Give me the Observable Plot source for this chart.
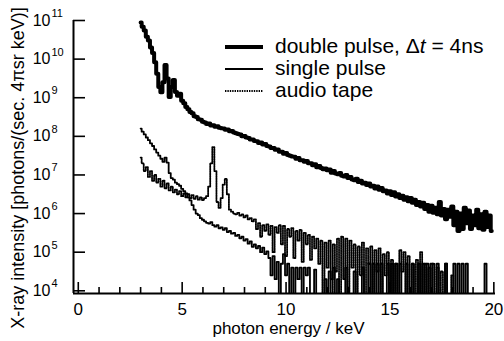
<!DOCTYPE html>
<html><head><meta charset="utf-8">
<script src="https://cdn.jsdelivr.net/npm/d3@7"></script>
<script src="https://cdn.jsdelivr.net/npm/@observablehq/plot@0.6"></script>
<style>
body{margin:0;background:#fff;}
#chart{position:relative;width:504px;height:341px;font-family:"Liberation Sans",Arial,Helvetica,sans-serif;color:#000;}
#chart svg{display:block;}
.lg{position:absolute;left:225px;font-size:21px;line-height:21px;white-space:nowrap;display:flex;align-items:center;}
.lg svg{margin-right:10px;}
</style></head><body><div id="chart"></div>
<script>
// energy channels (keV): 3.0 .. 19.9 in 0.1 keV bins
const energyStart = 3.0, energyStep = 0.1, channelCount = 170;
// log10 of X-ray intensity
const doubleLog = [
10.95,10.84,10.74,10.58,10.48,10.30,10.16,9.92,9.62,9.28,
9.14,9.40,9.85,9.50,9.02,9.28,9.46,9.15,9.05,9.10,
8.92,8.86,8.76,8.70,8.63,8.60,8.52,8.50,8.44,8.43,
8.38,8.36,8.32,8.33,8.28,8.29,8.25,8.26,8.22,8.21,
8.20,8.17,8.18,8.13,8.14,8.10,8.08,8.06,8.05,8.00,
8.01,7.97,7.96,7.92,7.92,7.88,7.87,7.83,7.84,7.79,
7.80,7.75,7.74,7.70,7.70,7.65,7.66,7.60,7.60,7.55,
7.57,7.52,7.50,7.48,7.47,7.42,7.44,7.38,7.38,7.34,
7.36,7.30,7.30,7.25,7.28,7.20,7.23,7.18,7.15,7.17,
7.12,7.14,7.06,7.10,7.04,7.02,7.05,6.98,6.96,7.00,
6.92,6.95,6.88,6.86,6.90,6.82,6.85,6.78,6.80,6.74,
6.78,6.70,6.72,6.65,6.70,6.62,6.66,6.58,6.60,6.52,
6.58,6.48,6.55,6.44,6.50,6.40,6.46,6.36,6.42,6.32,
6.40,6.28,6.36,6.22,6.30,6.18,6.28,6.12,6.22,6.05,
6.20,6.02,6.15,5.98,6.30,5.95,6.12,5.85,6.10,5.92,
6.18,5.70,6.05,5.55,6.00,5.60,6.15,5.75,6.08,5.60,
5.95,5.70,6.10,5.62,5.98,5.58,6.05,5.65,5.95,5.55];
const singleLog = [
8.20,8.12,8.05,7.97,7.90,7.82,7.75,7.66,7.58,7.50,
7.42,7.34,7.45,7.32,7.05,6.92,6.88,6.80,6.76,6.72,
6.64,6.58,6.52,6.42,6.34,6.22,6.10,6.00,5.96,5.88,
5.84,5.80,5.76,5.74,5.78,5.70,5.66,5.70,5.62,5.64,
5.58,5.62,5.52,5.55,5.48,5.50,5.42,5.45,5.36,5.40,
5.30,5.34,5.22,5.28,5.14,5.20,5.10,5.16,5.00,5.12,
4.95,5.02,4.85,4.40,4.90,4.30,4.75,3.80,4.70,4.95,
4.40,4.70,3.80,4.60,3.80,4.60,4.30,4.60,3.80,4.60,
4.40,4.60,3.80,3.80,4.55,3.80,3.80,3.80,3.80,4.30,
3.80,4.50,4.30,4.60,3.80,4.30,3.80,3.80,3.80,4.60,
3.80,3.80,3.80,4.50,3.80,3.80,3.80,4.60,3.80,3.80,
4.70,3.80,4.70,3.80,4.70,3.80,4.70,3.80,3.80,4.70,
3.80,4.70,3.80,4.70,3.80,4.70,3.80,3.80,4.70,3.80,
3.80,4.70,3.80,3.80,4.70,3.80,4.70,3.80,4.70,3.80,
4.70,3.80,3.80,4.70,3.80,3.80,3.80,4.70,3.80,3.80,
3.80,4.70,3.80,4.70,3.80,4.70,3.80,4.70,3.80,3.80,
3.80,3.80,3.80,3.80,3.80,3.80,4.70,3.80,3.80,3.80];
const tapeLog = [
7.45,7.30,7.10,7.20,6.95,7.10,6.85,7.00,6.80,6.90,
6.70,6.85,6.65,6.78,6.60,6.70,6.55,6.62,6.50,6.58,
6.45,6.52,6.42,6.50,6.40,6.48,6.38,6.45,6.36,6.42,
6.35,6.40,6.45,6.70,7.30,7.72,7.10,6.30,6.15,6.40,
6.75,6.90,6.50,6.10,6.05,6.00,5.98,6.02,5.95,5.98,
5.90,5.95,5.85,5.88,5.80,5.85,5.60,5.75,5.40,5.70,
5.55,5.72,5.45,5.68,5.00,5.65,5.50,5.70,5.20,5.68,
4.90,5.60,5.40,5.62,4.85,5.55,5.30,5.58,4.75,5.50,
5.20,5.45,4.80,5.40,5.10,5.35,4.70,5.30,3.80,5.25,
4.60,5.30,3.80,5.20,4.50,5.35,3.80,5.40,4.30,5.35,
3.80,5.30,4.60,5.20,3.80,5.15,4.40,5.25,3.80,5.10,
4.70,5.15,3.80,5.05,4.50,5.10,3.80,4.95,4.40,5.00,
3.80,4.80,3.80,4.70,3.80,5.05,4.50,5.00,3.80,4.90,
3.80,4.70,3.80,4.80,3.80,5.00,3.80,4.70,3.80,4.60,
3.80,4.70,3.80,4.60,3.80,4.50,3.80,4.70,3.80,3.80,
4.40,3.80,3.80,3.80,3.80,3.80,3.80,3.80,3.80,3.80,
3.80,3.80,3.80,3.80,3.80,3.80,3.80,3.80,3.80,3.80];

const xMajorTicks = [0, 5, 10, 15, 20];
const xMinorTicks = [1,2,3,4,6,7,8,9,11,12,13,14,16,17,18,19];
const yExponents = [4, 5, 6, 7, 8, 9, 10, 11];
const xDomain = [-0.23, 20.08];
const yDomain = [Math.pow(10, 3.93), 1e11];
const xTitle = "photon energy / keV";
const yTitle = "X-ray intensity [photons/(sec. 4\u03c0sr keV)]";
const legendLabels = ["double pulse, \u0394<i>t</i> = 4ns", "single pulse", "audio tape"];

const energy = d3.range(channelCount).map(i => Math.round((energyStart + i * energyStep) * 10) / 10);
const toRows = arr => arr.map((v, i) => ({energy: energy[i], value: Math.pow(10, v)}));
const doubleRows = toRows(doubleLog), singleRows = toRows(singleLog), tapeRows = toRows(tapeLog);

const plot = Plot.plot({
  width: 504, height: 341,
  marginLeft: 73, marginRight: 9, marginTop: 20, marginBottom: 48,
  style: {fontFamily: "'Liberation Sans', Arial, Helvetica, sans-serif", color: "#000", background: "#fff", overflow: "visible"},
  x: {domain: xDomain, axis: null, label: null},
  y: {type: "log", domain: yDomain, axis: null, label: null},
  marks: [
    Plot.line(tapeRows, {x: "energy", y: "value", curve: "step", stroke: "#000", strokeWidth: 1.8, strokeDasharray: "1.4,1", clip: true}),
    Plot.line(singleRows, {x: "energy", y: "value", curve: "step", stroke: "#000", strokeWidth: 1.8, clip: true}),
    Plot.line(doubleRows, {x: "energy", y: "value", curve: "step", stroke: "#000", strokeWidth: 4, strokeLinejoin: "round", clip: true}),
    Plot.ruleX([xDomain[0]], {stroke: "#000", strokeWidth: 2}),
    Plot.ruleY([yDomain[0]], {stroke: "#000", strokeWidth: 2}),
    Plot.axisX({ticks: xMajorTicks, tickSize: -11, tickFormat: () => "", strokeWidth: 1.6, label: null}),
    Plot.axisX({ticks: xMinorTicks, tickSize: -6, tickFormat: () => "", strokeWidth: 1.6, label: null}),
    Plot.axisX({ticks: xMajorTicks, tickSize: 0, tickPadding: 9, fontSize: 17, label: null}),
    Plot.axisY({ticks: yExponents.map(e => Math.pow(10, e)), tickSize: -12, tickFormat: () => "", strokeWidth: 1.6, label: null}),
    Plot.text(yExponents, {y: e => Math.pow(10, e), text: () => "10", frameAnchor: "left", textAnchor: "end", dx: -23, fontSize: 16}),
    Plot.text(yExponents, {y: e => Math.pow(10, e), text: e => String(e), frameAnchor: "left", textAnchor: "start", dx: -22, dy: -7, fontSize: 11}),
    Plot.text([yTitle], {text: d => d, frameAnchor: "left", textAnchor: "middle", lineAnchor: "middle", rotate: -90, dx: -55, dy: 11, fontSize: 18}),
    Plot.text([xTitle], {text: d => d, frameAnchor: "bottom", textAnchor: "middle", lineAnchor: "middle", dx: 4, dy: 35, fontSize: 17})
  ]
});
const chart = document.getElementById("chart");
chart.appendChild(plot);

const legendWidths = [4, 1.8, 1.8];
const legendDash = [null, null, "1.4,1"];
const legendTops = [35, 57, 79];
legendLabels.forEach((lab, i) => {
  const row = document.createElement("div");
  row.className = "lg";
  row.style.top = legendTops[i] + "px";
  row.innerHTML = `<svg width="40" height="21"><line x1="0" x2="38" y1="12" y2="12" stroke="#000" stroke-width="${legendWidths[i]}" ${legendDash[i] ? `stroke-dasharray="${legendDash[i]}"` : ""}/></svg><span>${lab}</span>`;
  chart.appendChild(row);
});
</script>
</body></html>
